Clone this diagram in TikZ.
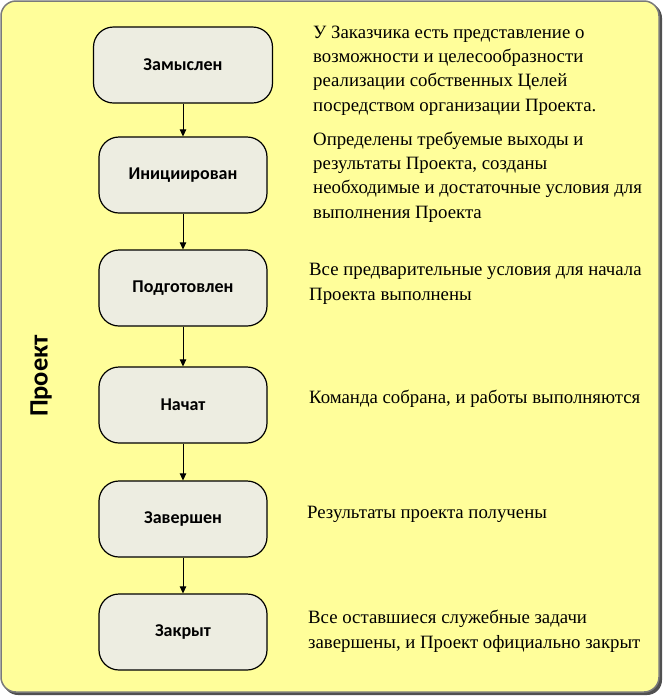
\documentclass[tikz,border=0pt]{standalone}
\usepackage{fontspec}
\setmainfont{Liberation Serif}
\newfontfamily\descfont{Liberation Serif}
\newfontfamily\boxfont{Carlito}
\usetikzlibrary{arrows.meta}
\definecolor{bgyellow}{HTML}{FFFE9A}
\definecolor{boxfill}{HTML}{EDEDE1}
\definecolor{framegray}{HTML}{7A7A7A}
\definecolor{shadowgray}{HTML}{505050}
\tikzset{
  stage/.style={draw=black, line width=1.2pt, fill=boxfill, rounded corners=20pt,
    minimum width=168pt, minimum height=76pt, inner sep=0pt,
    font=\boxfont\bfseries\fontsize{18}{21}\selectfont},
  desc/.style={anchor=base west, align=left, inner sep=0pt,
    font=\descfont\fontsize{18.8}{24.3}\selectfont},
  flow/.style={line width=0.8pt, -{Triangle[length=7pt,width=6.5pt]}},
}
\begin{document}
\begin{tikzpicture}[x=1pt,y=-1pt]
\useasboundingbox (0,0) rectangle (663,697);
% frame with shadow
\fill[shadowgray, rounded corners=15pt] (3,3) rectangle (662,695);
\draw[framegray, line width=1.5pt, fill=bgyellow, rounded corners=15pt] (1,1) rectangle (659,692);
\node[rotate=90, font=\boxfont\bfseries\fontsize{26.5}{30}\selectfont] (title) at (41,376) {Проект};
% stages
\node[stage, minimum width=179pt] (s1) at (183,65) {Замыслен};
\node[stage] (s2) at (183,175) {Инициирован};
\node[stage] (s3) at (183,288) {Подготовлен};
\node[stage] (s4) at (183,405) {Начат};
\node[stage] (s5) at (183,519) {Завершен};
\node[stage] (s6) at (183,632) {Закрыт};
\draw[flow] (s1) -- (s2);
\draw[flow] (s2) -- (s3);
\draw[flow] (s3) -- (s4);
\draw[flow] (s4) -- (s5);
\draw[flow] (s5) -- (s6);
% descriptions (anchor = baseline of the last line)
\node[desc] (d1) at (313,111) {У Заказчика есть представление о\\возможности и целесообразности\\реализации собственных Целей\\посредством организации Проекта.};
\node[desc] (d2) at (313,218) {Определены требуемые выходы и\\результаты Проекта, созданы\\необходимые и достаточные условия для\\выполнения Проекта};
\node[desc] (d3) at (309,300) {Все предварительные условия для начала\\Проекта выполнены};
\node[desc] (d4) at (309,403) {Команда собрана, и работы выполняются};
\node[desc] (d5) at (307,518) {Результаты проекта получены};
\node[desc] (d6) at (308,648) {Все оставшиеся служебные задачи\\завершены, и Проект официально закрыт};
\end{tikzpicture}
\end{document}
